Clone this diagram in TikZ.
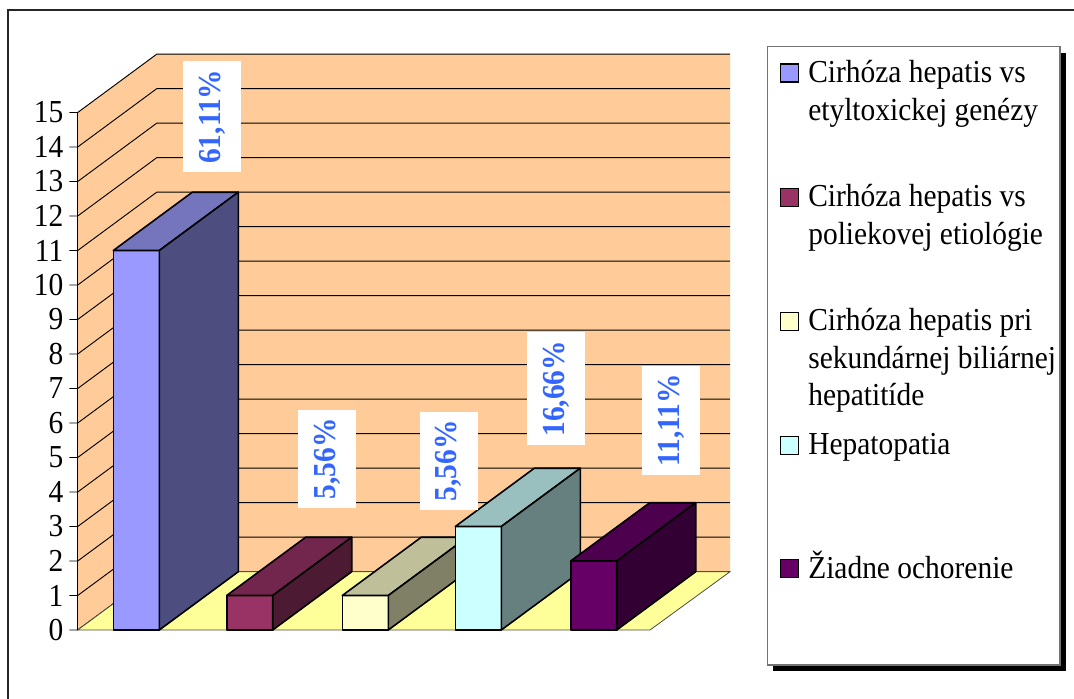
\documentclass[tikz,border=0pt]{standalone}
\usepackage{fontspec}
\setmainfont{Liberation Serif}[FakeStretch=0.92]

\definecolor{wallc}{HTML}{FFCC99}
\definecolor{floorc}{HTML}{FFFF99}
\definecolor{pctblue}{HTML}{3366FF}
\definecolor{onefront}{HTML}{9999FF}   \definecolor{onetop}{HTML}{7575BD}   \definecolor{oneside}{HTML}{4D4D80}
\definecolor{twofront}{HTML}{993366}   \definecolor{twotop}{HTML}{73264D}   \definecolor{twoside}{HTML}{4D1A33}
\definecolor{threefront}{HTML}{FFFFCC} \definecolor{threetop}{HTML}{BFBF99} \definecolor{threeside}{HTML}{808066}
\definecolor{fourfront}{HTML}{CCFFFF}  \definecolor{fourtop}{HTML}{99BFBF}  \definecolor{fourside}{HTML}{668080}
\definecolor{fivefront}{HTML}{660066}  \definecolor{fivetop}{HTML}{4D004D}  \definecolor{fiveside}{HTML}{330033}

\tikzset{
          gridln/.style={draw=black, line width=0.7pt},
          barln/.style={draw=black, line width=1.2pt, line join=round},
          pct/.style={fill=white, text=pctblue, rotate=90, minimum height=43.5pt, inner xsep=6.5pt,
                      font=\fontsize{24}{28}\selectfont\bfseries},
          ylbl/.style={anchor=east, inner sep=0pt, font=\fontsize{24}{28}\selectfont},
          lgd/.style={anchor=base west, inner sep=0pt, font=\fontsize{24}{28}\selectfont},
          key/.style={draw=black, line width=0.9pt, minimum size=13.5pt, inner sep=0pt}
        }

\begin{document}
\begin{tikzpicture}[x=0.75pt, y=-0.75pt]
  \useasboundingbox (0,0) rectangle (1074,699);
  \draw[line width=1.4pt, black!85] (8,699) |- (1074,10);

  % walls and floor
  \fill[wallc] (77.7,630) -- (77.7,112.3) -- (156.7,54) -- (730,54) -- (730,571.7) -- (156.7,571.7) -- cycle;
  \foreach \k in {0,...,15} {
    \pgfmathsetmacro{\yk}{630-\k*34.5}
    \draw[gridln] (69.3,\yk) -- (77.7,\yk) -- ++(79,-58.3) -- ++(573.3,0);
    \node[ylbl] (y\k) at (63.5,\yk) {\k};
  }
  \filldraw[fill=floorc, draw=black!70, line width=0.6pt] (77.7,630) -- (650,630) -- (730,571.7) -- (156.7,571.7) -- cycle;
  \draw[line width=1pt] (77.7,630) -- (77.7,112.3);

  % bars
  \foreach \i/\xl/\val/\col in {1/113.3/11/one, 2/226.7/1/two, 3/342.3/1/three, 4/455.3/3/four, 5/570.7/2/five} {
    \pgfmathsetmacro{\xr}{\xl+46}
    \pgfmathsetmacro{\yt}{630-\val*34.5}
    \filldraw[barln, fill=\col front] (\xl,630) rectangle (\xr,\yt);
    \filldraw[barln, fill=\col top] (\xl,\yt) -- ++(79,-58.3) -- ++(46,0) -- (\xr,\yt) -- cycle;
    \filldraw[barln, fill=\col side] (\xr,630) -- ++(79,-58.3) -- ++(0,-\val*34.5) -- (\xr,\yt) -- cycle;
  }

  % labels
  \node[pct] (p1) at (212,116.7) {61,11\%};
  \node[pct] (p2) at (327,459) {5,56\%};
  \node[pct] (p3) at (448.8,460.8) {5,56\%};
  \node[pct] (p4) at (556,388.7) {16,66\%};
  \node[pct] (p5) at (671,420.5) {11,11\%};

  % legend
  \fill[black] (773,52.7) rectangle (1066,671);
  \filldraw[fill=white, draw=black!55, line width=0.8pt] (767.3,46.7) rectangle (1060,665);
  \foreach \i/\yb/\col/\txt in {1/82.7/one/{Cirhóza hepatis vs\\etyltoxickej genézy},
                                2/206.7/two/{Cirhóza hepatis vs\\poliekovej etiológie},
                                3/330.7/three/{Cirhóza hepatis pri\\sekundárnej biliárnej\\hepatitíde},
                                4/454.7/four/{Hepatopatia},
                                5/578.3/five/{Žiadne ochorenie}} {
    \node[key, fill=\col front, anchor=south west] (s\i) at (779.5,\yb) {};
    \node[lgd] (l\i) at ([xshift=7pt]s\i.south east) {\begin{tabular}[t]{@{}l@{}}\txt\end{tabular}};
  }
\end{tikzpicture}
\end{document}
